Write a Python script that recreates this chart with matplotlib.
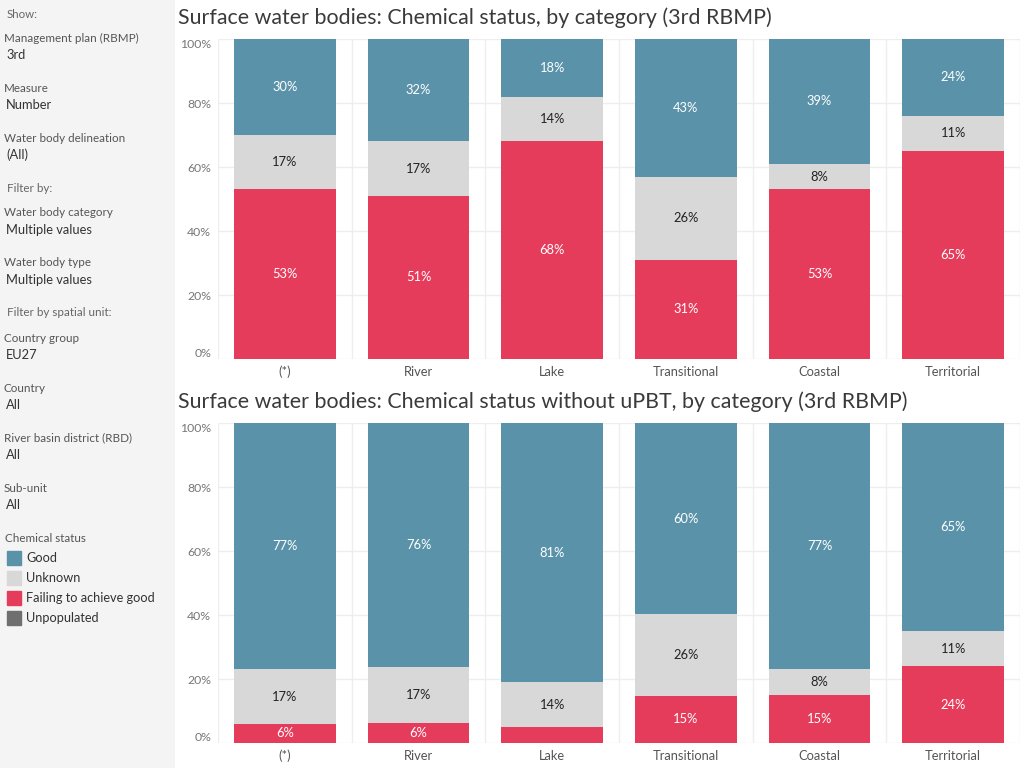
import matplotlib.pyplot as plt
import numpy as np

plt.rcParams['font.family'] = ['Lato', 'DejaVu Sans']

categories = ['(*)', 'River', 'Lake', 'Transitional', 'Coastal', 'Territorial']
statuses = ['Good', 'Unknown', 'Failing to achieve good', 'Unpopulated']

# chart 1: chemical status (%)
failing_1 = [53, 51, 68, 31, 53, 65]
unknown_1 = [17, 17, 14, 26, 8, 11]
good_1 = [30, 32, 18, 43, 39, 24]

# chart 2: chemical status without uPBT (%)
failing_2 = [6, 6.4, 5, 14.7, 15, 24]
unknown_2 = [17, 17.3, 14, 25.6, 8, 11]
good_2 = [77, 76.3, 81, 59.7, 77, 65]

titles = ['Surface water bodies: Chemical status, by category (3rd RBMP)',
          'Surface water bodies: Chemical status without uPBT, by category (3rd RBMP)']

c_good = '#5a93a9'
c_unknown = '#d8d8d8'
c_fail = '#e63c5c'
c_unpop = '#6f6f6f'

fig = plt.figure(figsize=(10.24, 7.68), dpi=100)

# left filter panel
panel = fig.add_axes([0, 0, 175 / 1024, 1])
panel.set_xlim(0, 175)
panel.set_ylim(768, 0)
panel.axis('off')
panel.add_patch(plt.Rectangle((0, 0), 175, 768, color='#f4f4f4', zorder=0))

txt = '#555555'
panel.text(7, 14, 'Show:', fontsize=8.3, color='#666666', va='center')
filters = [
    ('Management plan (RBMP)', '3rd', 38),
    ('Measure', 'Number', 88),
    ('Water body delineation', '(All)', 138),
    ('Water body category', 'Multiple values', 213),
    ('Water body type', 'Multiple values', 263),
    ('Country group', 'EU27', 338),
    ('Country', 'All', 388),
    ('River basin district (RBD)', 'All', 438),
    ('Sub-unit', 'All', 488),
]
for name, val, y in filters:
    panel.text(4, y, name, fontsize=8.4, color=txt, va='center')
    panel.text(6, y + 17, val, fontsize=9.3, color='#333333', va='center')
panel.text(7, 188, 'Filter by:', fontsize=8.4, color='#666666', va='center')
panel.text(7, 313, 'Filter by spatial unit:', fontsize=8.4, color='#666666', va='center')

panel.text(5, 539, 'Chemical status', fontsize=8.4, color=txt, va='center')
for i, (name, col) in enumerate(zip(statuses, [c_good, c_unknown, c_fail, c_unpop])):
    y = 558 + 20 * i
    panel.add_patch(plt.Rectangle((7, y - 7), 14, 14, color=col))
    panel.text(26, y, name, fontsize=9.2, color='#333333', va='center')

x = np.arange(len(categories))


def draw(ax, failing, unknown, good, title, top_px):
    failing = np.array(failing)
    unknown = np.array(unknown)
    good = np.array(good)
    w = 0.76
    ax.bar(x, failing, w, color=c_fail, zorder=2)
    ax.bar(x, unknown, w, bottom=failing, color=c_unknown, zorder=2)
    ax.bar(x, good, w, bottom=failing + unknown, color=c_good, zorder=2)
    for i in range(len(x)):
        if failing[i] >= 5.5:
            ax.text(x[i], failing[i] / 2, f'{failing[i]:.0f}%', ha='center', va='center',
                    color='white', fontsize=9.3)
        ax.text(x[i], failing[i] + unknown[i] / 2, f'{unknown[i]:.0f}%', ha='center',
                va='center', color='#222222', fontsize=9.3)
        ax.text(x[i], failing[i] + unknown[i] + good[i] / 2, f'{good[i]:.0f}%', ha='center',
                va='center', color='white', fontsize=9.3)
    ax.set_xlim(-0.5, len(x) - 0.5)
    ax.set_ylim(0, 100)
    ticks = [0, 20, 40, 60, 80, 100]
    ax.set_yticks(ticks)
    ax.set_yticklabels([f'{v}%' for v in ticks])
    labels = ax.get_yticklabels()
    labels[0].set_va('bottom')
    labels[-1].set_va('top')
    ax.set_xticks(x)
    ax.set_xticklabels(categories)
    ax.tick_params(length=0, labelsize=8.8, labelcolor='#777777', pad=5)
    ax.tick_params(axis='x', labelsize=9.3, labelcolor='#555555')
    for s in ax.spines.values():
        s.set_visible(False)
    ax.grid(axis='y', color='#eeeeee', linewidth=1, zorder=0)
    for b in np.arange(-0.5, len(x), 1.0):
        ax.axvline(b, color='#eeeeee', linewidth=1, zorder=0)
    fig.text(178 / 1024, 1 - top_px / 768, title, fontsize=15.4, color='#3a3a3a',
             va='center', ha='left')


ax1 = fig.add_axes([218 / 1024, 1 - 359 / 768, 802 / 1024, 320 / 768])
draw(ax1, failing_1, unknown_1, good_1, titles[0], 18)

ax2 = fig.add_axes([218 / 1024, 1 - 743 / 768, 802 / 1024, 320 / 768])
draw(ax2, failing_2, unknown_2, good_2, titles[1], 402)

fig.savefig('out.png', dpi=100)
